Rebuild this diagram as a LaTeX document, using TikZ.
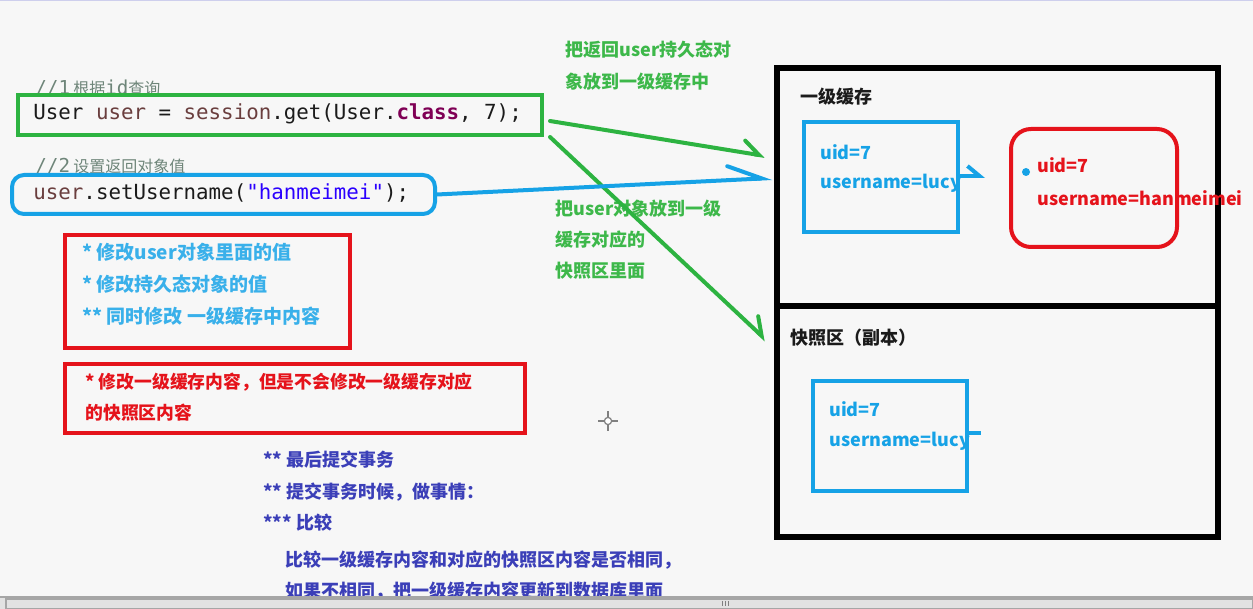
\documentclass[tikz,border=0pt]{standalone}
\usepackage{fontspec}
\setmainfont{Noto Sans CJK SC}
\setmonofont{DejaVu Sans Mono}
\newfontfamily\cjk{Noto Sans CJK SC}
\usetikzlibrary{arrows.meta}
\definecolor{cGreen}{HTML}{2DB341}
\definecolor{cLabel}{HTML}{3DB84A}
\definecolor{cBlue}{HTML}{16A2E6}
\definecolor{cRed}{HTML}{E5131B}
\definecolor{cNavy}{HTML}{3B3FB8}
\definecolor{cInk}{HTML}{1B1B1B}
\definecolor{cComment}{HTML}{6E8579}
\definecolor{cVar}{HTML}{6A3E3E}
\definecolor{cKey}{HTML}{7F0055}
\definecolor{cStr}{HTML}{2A00FF}
\definecolor{cPaper}{HTML}{F7F7F7}
\definecolor{cBar}{HTML}{E2E2E2}
\newcommand{\jv}[2]{\textcolor{#1}{#2}}
\tikzset{
  frm/.style={draw, line width=2pt, inner sep=0pt},
  frmG/.style={frm, draw=cGreen},
  frmB/.style={frm, draw=cBlue},
  frmR/.style={frm, draw=cRed},
  frmK/.style={frm, draw=black, line width=2.6pt},
  txt/.style={anchor=west, inner sep=0pt, font=\fontsize{9}{10}\selectfont\bfseries},
  code/.style={anchor=west, inner sep=0pt, font=\fontsize{10.4}{12}\ttfamily, cInk},
  cmt/.style={anchor=west, inner sep=0pt, font=\fontsize{9.6}{11}\ttfamily, cComment},
  lblG/.style={txt, cLabel, font=\fontsize{9}{10}\selectfont\bfseries},
  noteB/.style={txt, cBlue!85!white, font=\fontsize{9.5}{10}\selectfont\bfseries},
  noteR/.style={txt, cRed, font=\fontsize{8.9}{10}\selectfont\bfseries},
  noteN/.style={txt, cNavy},
  head/.style={txt, cInk},
  valB/.style={txt, cBlue, font=\fontsize{9}{11}\selectfont\bfseries},
  valR/.style={txt, cRed, font=\fontsize{9}{11}\selectfont\bfseries},
  arG/.style={cGreen, line width=2pt, line cap=round,
              -{Straight Barb[left, length=8pt, width=12pt, line cap=round]}},
  arB/.style={cBlue, line width=2pt, line cap=round,
              -{Straight Barb[left, length=17pt, width=14pt, line cap=round]}}
}
\begin{document}
\begin{tikzpicture}[x=0.5pt, y=-0.5pt]
\fill[cPaper] (0,0) rectangle (1253,609);
\useasboundingbox (0,0) rectangle (1253,609);
\draw[cNavy!25, line width=1pt] (0,0.5) -- (1253,0.5);
% code lines
\node[cmt] (cmt1) at (35,88) {//1\,{\cjk\fontsize{8}{9}\selectfont 根据}id{\cjk\fontsize{8}{9}\selectfont 查询}};
\node[code] (get) at (33,114) {User \jv{cVar}{user} = \jv{cVar}{session}.get(User.\jv{cKey}{\bfseries class}, 7);};
\node[frmG, minimum width=262pt, minimum height=20pt] (getbox) at (280,115) {};
\node[cmt] (cmt2) at (35,166) {//2\,{\cjk\fontsize{8}{9}\selectfont 设置返回对象值}};
\node[code] (set) at (33,193) {\jv{cVar}{user}.setUsername(\jv{cStr}{"hanmeimei"});};
\node[frmB, rounded corners=6pt, minimum width=211.5pt, minimum height=19.5pt] (setbox) at (223.5,194.5) {};
% notes on the left
\node[frmR, minimum width=142.5pt, minimum height=56.5pt] (note1) at (207.5,291.5) {};
\node[noteB] (n1a) at (82,252) {* 修改user对象里面的值};
\node[noteB] (n1b) at (82,284) {* 修改持久态对象的值};
\node[noteB] (n1c) at (82,316) {** 同时修改 一级缓存中内容};
\node[frmR, minimum width=230pt, minimum height=34.5pt] (note2) at (295,398.5) {};
\node[noteR] (n2a) at (85,382) {* 修改一级缓存内容，但是不会修改一级缓存对应};
\node[noteR] (n2b) at (85,413) {的快照区内容};
\node[noteN] (c1) at (263,460) {** 最后提交事务};
\node[noteN] (c2) at (263,492) {** 提交事务时候，做事情：};
\node[noteN] (c3) at (263,523) {*** 比较};
\node[noteN] (c4) at (285,560) {比较一级缓存内容和对应的快照区内容是否相同，};
\node[noteN] (c5) at (285,591) {如果不相同，把一级缓存内容更新到数据库里面};
% labels on the arrows
\node[lblG] (g1a) at (565,50) {把返回user持久态对};
\node[lblG] (g1b) at (565,82) {象放到一级缓存中};
\node[lblG] (g2a) at (555,209) {把user对象放到一级};
\node[lblG] (g2b) at (555,240) {缓存对应的};
\node[lblG] (g2c) at (555,271) {快照区里面};
% session cache and snapshot
\node[frmK, minimum width=220.5pt, minimum height=119pt] (cache) at (997.5,187) {};
\node[frmK, minimum width=220.5pt, minimum height=115.5pt] (snap) at (997.5,421.5) {};
\node[head] (cacheT) at (800,97) {一级缓存};
\node[head] (snapT) at (790,338) {快照区（副本）};
\node[frmB, minimum width=77pt, minimum height=55pt] (objA) at (881,177) {};
\node[valB] (objAid) at (820,152) {uid=7};
\node[valB] (objAname) at (820,183) {username=lucy};
\node[frmR, rounded corners=10pt, minimum width=83pt, minimum height=59pt] (objB) at (1094,188) {};
\fill[cBlue] (1026,172) circle (2pt);
\node[valR] (objBid) at (1037,165) {uid=7};
\node[valR] (objBname) at (1037,198) {username=hanmeimei};
\node[frmB, minimum width=77pt, minimum height=55pt] (objC) at (890,436) {};
\node[valB] (objCid) at (829,409) {uid=7};
\node[valB] (objCname) at (829,441) {username=lucy};
% arrows
\coordinate (toCache) at (765,156);
\coordinate (toSnap) at (766,340);
\coordinate (toCacheB) at (772,178);
\coordinate (hook) at (985,176);
\coordinate (tick) at (981,433);
\draw[arG] ([xshift=3pt,yshift=-3pt]getbox.east) -- (toCache);
\draw[arG] ([xshift=3pt]getbox.south east) -- (toSnap);
\draw[arB] (setbox.east) -- (toCacheB);
\draw[cBlue, line width=2pt, -{Straight Barb[left, length=6pt, width=10pt]}] (objA.east |- hook) -- (hook);
\draw[cBlue, line width=2pt] (objC.east |- tick) -- (tick);
% cursor and scroll bar
\draw[gray, line width=0.8pt] (598,421) -- (618,421) (608,411) -- (608,431);
\draw[gray, fill=white, line width=0.6pt] (608,421) circle (1.8pt);
\fill[cBar] (0,597) rectangle (1253,609);
\draw[gray!70, line width=0.6pt] (0,597) -- (1253,597);
\draw[gray!70, line width=0.6pt] (6,599) rectangle (1253,609);
\draw[gray, line width=0.5pt] (722,601) -- (722,606) (725,601) -- (725,606) (728,601) -- (728,606);
\end{tikzpicture}
\end{document}
